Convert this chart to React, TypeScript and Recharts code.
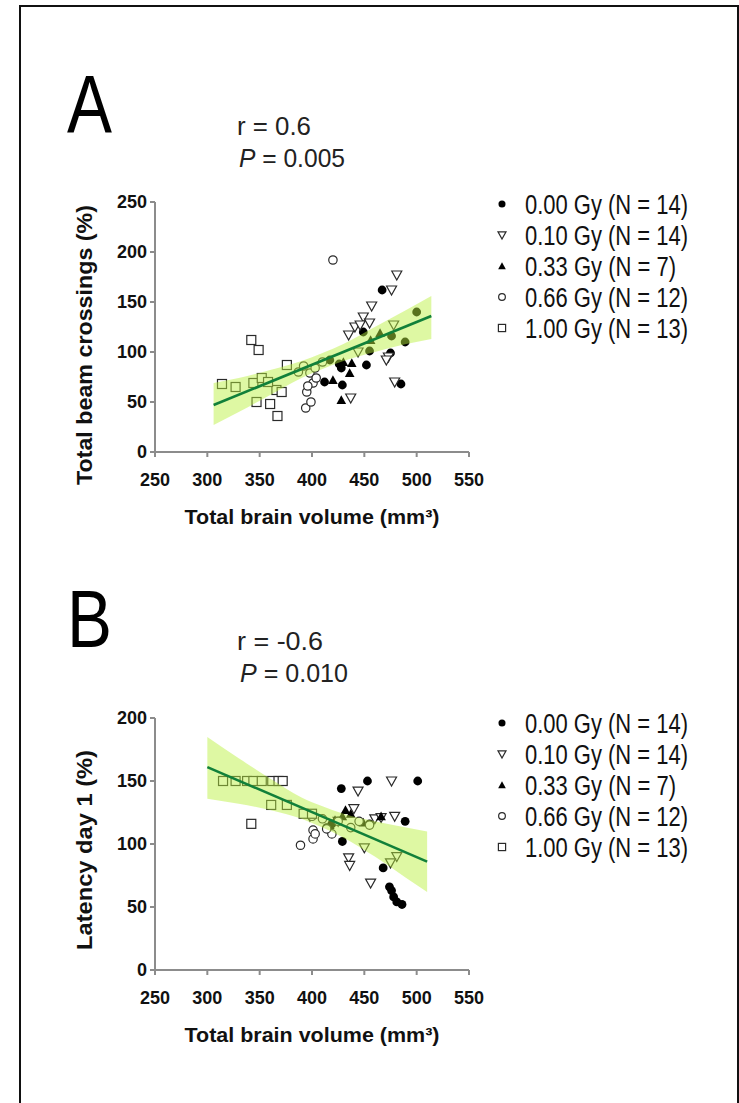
import React from 'react';
import { ComposedChart, XAxis, YAxis, Scatter, Line, Area } from 'recharts';

const SANS = '"Liberation Sans", Arial, sans-serif';
const NARROW = '"Liberation Sans Narrow", "Liberation Sans", Arial, sans-serif';

// ticks
const xTicks = [250, 300, 350, 400, 450, 500, 550];
const yTicksA = [0, 50, 100, 150, 200, 250];
const yTicksB = [0, 50, 100, 150, 200];

// legend
const groupLabels = ['0.00 Gy (N = 14)', '0.10 Gy (N = 14)', '0.33 Gy (N = 7)', '0.66 Gy (N = 12)', '1.00 Gy (N = 13)'];
const groupShapes = ['dot', 'triDown', 'triUp', 'ring', 'square'];

// panel A: brain volume vs beam crossings
const a000: [number, number][] = [[467, 162], [449, 120], [412, 70], [428, 84], [429, 67], [452, 87], [475, 99], [485, 68], [500, 140], [489, 110], [455, 101], [417, 92], [476, 116], [426, 88]];
const a010: [number, number][] = [[481, 177], [476, 162], [457, 146], [449, 135], [455, 129], [441, 125], [435, 117], [478, 127], [473, 95], [479, 70], [437, 54], [444, 100], [446, 127], [471, 92]];
const a033: [number, number][] = [[420, 72], [428, 52], [438, 89], [436, 79], [465, 119], [430, 90], [456, 112]];
const a066: [number, number][] = [[420, 192], [394, 44], [399, 50], [395, 60], [401, 69], [387, 80], [398, 79], [403, 84], [392, 86], [410, 90], [396, 66], [404, 74]];
const a100: [number, number][] = [[314, 68], [327, 65], [342, 112], [349, 102], [344, 69], [352, 74], [347, 50], [360, 48], [367, 36], [366, 62], [371, 60], [376, 87], [358, 70]];
const fitAX = [306, 514];
const fitAY = [47, 136];
const bandAX = [306, 330, 360, 390, 410, 430, 460, 490, 514];
const bandALow = [27, 40, 57, 74, 83, 91, 100, 108, 113];
const bandAHigh = [69, 74, 82, 91, 99, 108, 125, 142, 156];

// panel B: brain volume vs latency day 1
const b000: [number, number][] = [[428, 144], [453, 150], [501, 150], [489, 118], [429, 102], [468, 81], [476, 63], [478, 58], [481, 54], [486, 52], [414, 113], [455, 116], [419, 116], [474, 66]];
const b010: [number, number][] = [[444, 142], [476, 150], [440, 128], [460, 120], [479, 122], [450, 97], [435, 89], [436, 83], [456, 69], [481, 90], [475, 85], [398, 122], [425, 118], [466, 121]];
const b033: [number, number][] = [[466, 122], [429, 122], [437, 124], [422, 119], [449, 117], [417, 115], [432, 127]];
const b066: [number, number][] = [[389, 99], [401, 104], [401, 111], [419, 108], [414, 112], [400, 122], [410, 120], [425, 118], [445, 118], [455, 115], [403, 108], [437, 113]];
const b100: [number, number][] = [[315, 150], [327, 150], [338, 150], [344, 150], [352, 150], [362, 150], [368, 150], [372, 150], [361, 131], [376, 131], [342, 116], [392, 124], [400, 124]];
const fitBX = [300, 510];
const fitBY = [161, 86];
const bandBX = [300, 330, 360, 390, 410, 430, 460, 490, 510];
const bandBLow = [136, 132, 127, 120, 113, 105, 90, 73, 62];
const bandBHigh = [185, 168, 152, 137, 130, 124, 118, 113, 110];

const toPts = (arr: [number, number][]) => arr.map(([x, y]) => ({ x, y }));
const toLine = (xs: number[], ys: number[]) => xs.map((x, i) => ({ x, y: ys[i] }));
const toBand = (xs: number[], lo: number[], hi: number[]) => xs.map((x, i) => ({ x, band: [lo[i], hi[i]] }));

const Marker = ({ kind, cx, cy, s = 1 }: any) => {
  const stroke = '#2a2a2a';
  if (kind === 'dot') return <circle cx={cx} cy={cy} r={4.4 * s} fill="#000" />;
  if (kind === 'ring') return <circle cx={cx} cy={cy} r={4.2 * s} fill="#fff" stroke={stroke} strokeWidth={1.2} />;
  if (kind === 'square') return <rect x={cx - 4.5 * s} y={cy - 4.5 * s} width={9 * s} height={9 * s} fill="#fff" stroke={stroke} strokeWidth={1.2} />;
  if (kind === 'triUp') return <polygon points={`${cx - 4.8 * s},${cy + 4 * s} ${cx + 4.8 * s},${cy + 4 * s} ${cx},${cy - 4.8 * s}`} fill="#000" />;
  return <polygon points={`${cx - 5 * s},${cy - 4 * s} ${cx + 5 * s},${cy - 4 * s} ${cx},${cy + 5 * s}`} fill="#fff" stroke={stroke} strokeWidth={1.2} />;
};

const shapeOf = (kind: string) => (props: any) => <Marker kind={kind} cx={props.cx} cy={props.cy} />;

const axisStroke = '#8c8c8c';
const tickStyle = { fill: '#111', fontSize: 18, fontFamily: NARROW, fontWeight: 'bold' as const };

const Panel = ({ groups, fitX, fitY, bandX, bandLo, bandHi, yMax, yTicks, top, height, margin }: any) => (
  <div style={{ position: 'absolute', left: 0, top }}>
    <ComposedChart width={739} height={height} margin={margin}>
      <XAxis
        type="number"
        dataKey="x"
        domain={[250, 550]}
        ticks={xTicks}
        allowDataOverflow
        height={30}
        stroke={axisStroke}
        strokeWidth={2}
        tickSize={5}
        tickMargin={16}
        tick={tickStyle}
      />
      <YAxis
        type="number"
        dataKey="y"
        domain={[0, yMax]}
        ticks={yTicks}
        allowDataOverflow
        width={60}
        stroke={axisStroke}
        strokeWidth={2}
        tickSize={5}
        tickMargin={3}
        tick={tickStyle}
      />
      {groups.map((g: [number, number][], i: number) => (
        <Scatter key={i} name={groupLabels[i]} data={toPts(g)} dataKey="y" shape={shapeOf(groupShapes[i])} isAnimationActive={false} zIndex={600} />
      ))}
      <Area
        data={toBand(bandX, bandLo, bandHi)}
        dataKey="band"
        type="monotone"
        stroke="none"
        fill="#bbf03e"
        fillOpacity={0.48}
        isAnimationActive={false}
        zIndex={700}
      />
      <Line
        data={toLine(fitX, fitY)}
        dataKey="y"
        stroke="#11803a"
        strokeWidth={2.6}
        dot={false}
        isAnimationActive={false}
        zIndex={800}
      />
    </ComposedChart>
  </div>
);

const Legend = ({ top }: { top: number }) => (
  <g>
    {groupLabels.map((label, i) => {
      const base = top + i * 31;
      const w = label.length === 15 ? 151 : 163;
      return (
        <g key={label}>
          <Marker kind={groupShapes[i]} cx={502} cy={base - 10} s={0.8} />
          <text x={525} y={base} fontSize={27} fontFamily={NARROW} fill="#111" textLength={w} lengthAdjust="spacingAndGlyphs">
            {label}
          </text>
        </g>
      );
    })}
  </g>
);

const Overlay = () => (
  <svg width={739} height={1103} style={{ position: 'absolute', left: 0, top: 0, pointerEvents: 'none' }}>
    <text x={67} y={132} fontSize={82} fontFamily={SANS} fill="#000" textLength={45} lengthAdjust="spacingAndGlyphs">A</text>
    <text x={237} y={135} fontSize={26} fontFamily={SANS} fill="#222" textLength={74} lengthAdjust="spacingAndGlyphs">r = 0.6</text>
    <text x={239} y={167} fontSize={26} fontFamily={SANS} fill="#222" textLength={106} lengthAdjust="spacingAndGlyphs">
      <tspan fontStyle="italic">P</tspan> = 0.005
    </text>
    <Legend top={214} />
    <text x={312} y={524} fontSize={21} fontWeight="bold" fontFamily={NARROW} fill="#111" textAnchor="middle" textLength={255} lengthAdjust="spacingAndGlyphs">
      Total brain volume (mm³)
    </text>
    <text x={92} y={345} transform="rotate(-90 92 345)" fontSize={22} fontWeight="bold" fontFamily={NARROW} fill="#111" textAnchor="middle" textLength={280} lengthAdjust="spacingAndGlyphs">
      Total beam crossings (%)
    </text>

    <text x={67} y={647} fontSize={82} fontFamily={SANS} fill="#000" textLength={45} lengthAdjust="spacingAndGlyphs">B</text>
    <text x={237} y={650} fontSize={26} fontFamily={SANS} fill="#222" textLength={86} lengthAdjust="spacingAndGlyphs">r = -0.6</text>
    <text x={240} y={682} fontSize={26} fontFamily={SANS} fill="#222" textLength={108} lengthAdjust="spacingAndGlyphs">
      <tspan fontStyle="italic">P</tspan> = 0.010
    </text>
    <Legend top={733} />
    <text x={312} y={1042} fontSize={21} fontWeight="bold" fontFamily={NARROW} fill="#111" textAnchor="middle" textLength={255} lengthAdjust="spacingAndGlyphs">
      Total brain volume (mm³)
    </text>
    <text x={92} y={850} transform="rotate(-90 92 850)" fontSize={22} fontWeight="bold" fontFamily={NARROW} fill="#111" textAnchor="middle" textLength={200} lengthAdjust="spacingAndGlyphs">
      Latency day 1 (%)
    </text>
  </svg>
);

export default function App() {
  return (
    <div style={{ position: 'absolute', left: 0, top: 0, width: 739, height: 1103, overflow: 'hidden', background: '#fff' }}>
      <div style={{ position: 'absolute', left: 19, top: 5, width: 716, height: 1200, border: '2px solid #111' }} />
      <Panel
        groups={[a000, a010, a033, a066, a100]}
        fitX={fitAX}
        fitY={fitAY}
        bandX={bandAX}
        bandLo={bandALow}
        bandHi={bandAHigh}
        yMax={250}
        yTicks={yTicksA}
        top={0}
        height={560}
        margin={{ top: 202, right: 270, left: 95, bottom: 78 }}
      />
      <Panel
        groups={[b000, b010, b033, b066, b100]}
        fitX={fitBX}
        fitY={fitBY}
        bandX={bandBX}
        bandLo={bandBLow}
        bandHi={bandBHigh}
        yMax={200}
        yTicks={yTicksB}
        top={560}
        height={543}
        margin={{ top: 158, right: 270, left: 95, bottom: 103 }}
      />
      <Overlay />
    </div>
  );
}
